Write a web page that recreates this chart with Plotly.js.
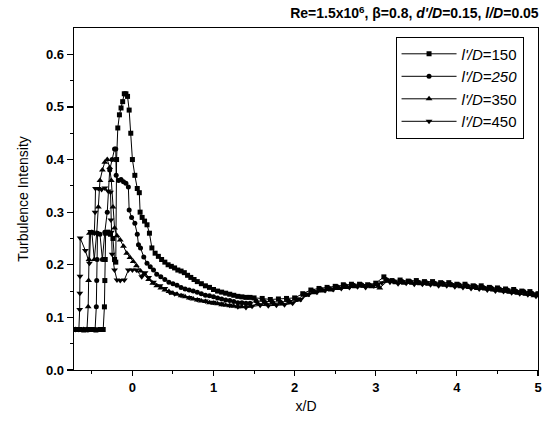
<!DOCTYPE html>
<html>
<head>
<meta charset="utf-8">
<script src="https://cdn.plot.ly/plotly-3.0.1.min.js"></script>
<style>html,body{margin:0;padding:0;background:#fff}#chart{width:548px;height:422px}</style>
</head>
<body>
<div id="chart"></div>
<script>
// l'/D = 150 (squares)
const x150 = [-0.70,-0.65,-0.60,-0.55,-0.50,-0.45,-0.40,-0.36,-0.345,-0.34,-0.335,-0.33,-0.30,-0.27,-0.24,-0.22,-0.205,-0.195,-0.18,-0.16,-0.14,-0.12,-0.10,-0.08,-0.06,-0.04,-0.02,0.00,0.03,0.06,0.085,0.095,0.12,0.15,0.18,0.21,0.24,0.28,0.32,0.36,0.40,0.44,0.48,0.52,0.56,0.60,0.64,0.68,0.72,0.76,0.80,0.85,0.90,0.95,1.00,1.05,1.10,1.15,1.20,1.25,1.30,1.35,1.40,1.45,
  1.50,1.60,1.70,1.80,1.90,2.00,2.10,2.20,2.30,2.40,2.50,2.60,2.70,2.80,2.90,3.00,3.10,3.20,3.30,3.40,3.50,3.60,3.70,3.80,3.90,4.00,4.10,4.20,4.30,4.40,4.50,4.60,4.70,4.80,4.90,5.00];
const y150 = [0.077,0.077,0.076,0.077,0.077,0.076,0.077,0.077,0.12,0.17,0.21,0.26,0.262,0.258,0.25,0.21,0.205,0.40,0.46,0.485,0.498,0.51,0.525,0.525,0.52,0.494,0.45,0.40,0.37,0.345,0.337,0.30,0.29,0.283,0.276,0.26,0.232,0.222,0.216,0.21,0.205,0.20,0.197,0.194,0.19,0.188,0.185,0.18,0.176,0.172,0.168,0.164,0.16,0.157,0.153,0.15,0.148,0.146,0.144,0.142,0.14,0.139,0.138,0.138,
  0.137,0.136,0.134,0.135,0.136,0.137,0.145,0.152,0.155,0.157,0.159,0.162,0.163,0.163,0.162,0.165,0.177,0.170,0.171,0.169,0.170,0.168,0.168,0.166,0.166,0.163,0.163,0.160,0.160,0.157,0.156,0.154,0.153,0.150,0.149,0.145];

// l'/D = 250 (circles)
const x250 = [-0.70,-0.65,-0.60,-0.55,-0.50,-0.46,-0.445,-0.44,-0.435,-0.43,-0.40,-0.37,-0.34,-0.31,-0.28,-0.25,-0.22,-0.205,-0.20,-0.17,-0.14,-0.11,-0.08,-0.05,-0.04,-0.01,0.03,0.06,0.075,0.10,0.14,0.18,0.22,0.26,0.30,0.35,0.40,0.45,0.50,0.55,0.60,0.65,0.70,0.75,0.80,0.85,0.90,0.95,1.00,1.05,1.10,1.15,1.20,1.25,1.30,1.35,1.40,1.45,
  1.525,1.625,1.725,1.825,1.925,2.025,2.125,2.225,2.325,2.425,2.525,2.625,2.725,2.825,2.925,3.025,3.125,3.225,3.325,3.425,3.525,3.625,3.725,3.825,3.925,4.025,4.125,4.225,4.325,4.425,4.525,4.625,4.725,4.825,4.925,4.99];
const y250 = [0.077,0.077,0.077,0.076,0.077,0.077,0.12,0.17,0.21,0.26,0.258,0.21,0.262,0.30,0.38,0.40,0.42,0.42,0.37,0.36,0.362,0.358,0.355,0.348,0.304,0.29,0.279,0.258,0.238,0.232,0.215,0.203,0.196,0.19,0.182,0.177,0.172,0.167,0.164,0.161,0.157,0.154,0.152,0.15,0.148,0.145,0.142,0.141,0.139,0.137,0.135,0.133,0.132,0.13,0.128,0.128,0.127,0.127,
  0.131,0.130,0.129,0.129,0.131,0.134,0.143,0.150,0.153,0.155,0.158,0.160,0.161,0.162,0.161,0.162,0.172,0.168,0.168,0.168,0.167,0.166,0.165,0.165,0.163,0.162,0.160,0.159,0.157,0.156,0.154,0.152,0.150,0.149,0.146,0.144];

// l'/D = 350 (up triangles)
const x350 = [-0.70,-0.65,-0.60,-0.56,-0.545,-0.54,-0.535,-0.53,-0.50,-0.47,-0.44,-0.42,-0.40,-0.37,-0.34,-0.31,-0.28,-0.26,-0.24,-0.22,-0.19,-0.15,-0.11,-0.07,-0.03,0.01,0.05,0.10,0.14,0.20,0.25,0.30,0.35,0.40,0.45,0.50,0.55,0.60,0.65,0.70,0.75,0.80,0.85,0.90,0.95,1.00,1.05,1.10,1.15,1.20,1.25,1.30,1.35,1.40,1.45,
  1.55,1.65,1.75,1.85,1.95,2.05,2.15,2.25,2.35,2.45,2.55,2.65,2.75,2.85,2.95,3.05,3.15,3.25,3.35,3.45,3.55,3.65,3.75,3.85,3.95,4.05,4.15,4.25,4.35,4.45,4.55,4.65,4.75,4.85,4.95];
const y350 = [0.077,0.076,0.077,0.077,0.12,0.17,0.21,0.26,0.262,0.21,0.26,0.31,0.36,0.38,0.395,0.40,0.385,0.36,0.31,0.27,0.255,0.247,0.235,0.222,0.214,0.206,0.198,0.188,0.182,0.172,0.165,0.16,0.156,0.152,0.149,0.146,0.144,0.141,0.139,0.137,0.135,0.133,0.131,0.13,0.128,0.127,0.126,0.124,0.123,0.122,0.121,0.12,0.12,0.121,0.121,
  0.126,0.126,0.125,0.126,0.128,0.133,0.142,0.147,0.150,0.152,0.155,0.157,0.158,0.159,0.158,0.156,0.170,0.166,0.165,0.165,0.164,0.163,0.162,0.161,0.160,0.158,0.157,0.155,0.154,0.152,0.150,0.148,0.146,0.144,0.141];

// l'/D = 450 (down triangles)
const x450 = [-0.70,-0.66,-0.65,-0.648,-0.646,-0.644,-0.58,-0.53,-0.515,-0.49,-0.47,-0.46,-0.455,-0.42,-0.38,-0.34,-0.30,-0.27,-0.265,-0.26,-0.25,-0.22,-0.19,-0.15,-0.10,-0.05,0.00,0.05,0.115,0.156,0.20,0.26,0.34,0.40,0.46,0.52,0.60,0.70,0.80,0.90,1.00,1.10,1.20,1.30,1.40,
  1.475,1.575,1.675,1.775,1.875,1.975,2.075,2.175,2.275,2.375,2.475,2.575,2.675,2.775,2.875,2.975,3.075,3.175,3.275,3.375,3.475,3.575,3.675,3.775,3.875,3.975,4.075,4.175,4.275,4.375,4.475,4.575,4.675,4.775,4.875,4.975];
const y450 = [0.077,0.077,0.115,0.146,0.178,0.251,0.227,0.203,0.263,0.262,0.26,0.30,0.345,0.345,0.343,0.346,0.34,0.338,0.285,0.262,0.22,0.19,0.171,0.17,0.171,0.19,0.19,0.19,0.177,0.185,0.176,0.167,0.16,0.155,0.148,0.145,0.142,0.138,0.134,0.131,0.129,0.126,0.123,0.12,0.119,
  0.121,0.123,0.122,0.123,0.124,0.127,0.134,0.144,0.148,0.151,0.153,0.155,0.157,0.158,0.157,0.160,0.166,0.167,0.164,0.165,0.163,0.163,0.162,0.160,0.160,0.158,0.157,0.155,0.154,0.152,0.150,0.149,0.147,0.145,0.143,0.140];

const seriesNames = ["<i>l'/D</i>=150", "<i>l'/D=250</i>", "<i>l'/D</i>=350", "<i>l'/D</i>=450"];
const xTickVals = [0, 1, 2, 3, 4, 5];
const yTickVals = [0.0, 0.1, 0.2, 0.3, 0.4, 0.5, 0.6];

const FONT = "'Liberation Sans', Arial, Helvetica, sans-serif";
const symbols = ['square', 'circle', 'triangle-up', 'triangle-down'];
const sizes = [5, 5, 6, 6];
const xs = [x150, x250, x350, x450];
const ys = [y150, y250, y350, y450];

const traces = xs.map((x, i) => ({
  x: x, y: ys[i], type: 'scatter', mode: 'lines+markers',
  name: seriesNames[i], legendgroup: 'g' + i,
  line: {color: '#000', width: 1},
  marker: {symbol: symbols[i], size: sizes[i], color: '#000'}
}));

const layout = {
  width: 548, height: 422,
  margin: {l: 74, r: 10, t: 28, b: 52},
  paper_bgcolor: '#fff', plot_bgcolor: '#fff',
  font: {family: FONT, color: '#000', size: 13},
  showlegend: true,
  title: {
    text: "<b>Re=1.5x10<sup>6</sup>, β=0.8, <i>d'/D</i>=0.15, <i>l/D</i>=0.05</b>",
    x: 0.983, xanchor: 'right', xref: 'container',
    y: 0.968, yanchor: 'middle', yref: 'container',
    font: {family: FONT, size: 14, color: '#000'}
  },
  xaxis: {
    range: [-0.72, 5], tickvals: xTickVals, ticktext: xTickVals.map(String),
    ticks: 'outside', ticklen: 5, tickwidth: 1.2, tickcolor: '#000',
    minor: {tickvals: [-0.5, 0.5, 1.5, 2.5, 3.5, 4.5], ticks: 'outside', ticklen: 3, tickwidth: 1, tickcolor: '#000'},
    showline: true, linecolor: '#000', linewidth: 1.3, mirror: true,
    showgrid: false, zeroline: false,
    tickfont: {family: FONT, size: 13, color: '#000', weight: 'bold'},
    title: {text: 'x/D', font: {family: FONT, size: 14, color: '#000'}, standoff: 7}
  },
  yaxis: {
    range: [0, 0.65], tickvals: yTickVals, ticktext: yTickVals.map(v => v.toFixed(1)),
    ticks: 'outside', ticklen: 6, tickwidth: 1.2, tickcolor: '#000',
    minor: {tickvals: [0.05, 0.15, 0.25, 0.35, 0.45, 0.55], ticks: 'outside', ticklen: 3, tickwidth: 1, tickcolor: '#000'},
    showline: true, linecolor: '#000', linewidth: 1.3, mirror: true,
    showgrid: false, zeroline: false,
    tickfont: {family: FONT, size: 13, color: '#000', weight: 'bold'},
    title: {text: 'Turbulence Intensity', font: {family: FONT, size: 14, color: '#000'}, standoff: 14}
  },
  legend: {
    x: 0.693, xanchor: 'left', y: 0.975, yanchor: 'top',
    bgcolor: '#fff', bordercolor: '#000', borderwidth: 1,
    font: {family: FONT, size: 15, color: '#000'},
    tracegroupgap: 0, itemwidth: 55
  }
};

Plotly.newPlot('chart', traces, layout, {displayModeBar: false, staticPlot: true});
</script>
</body>
</html>
